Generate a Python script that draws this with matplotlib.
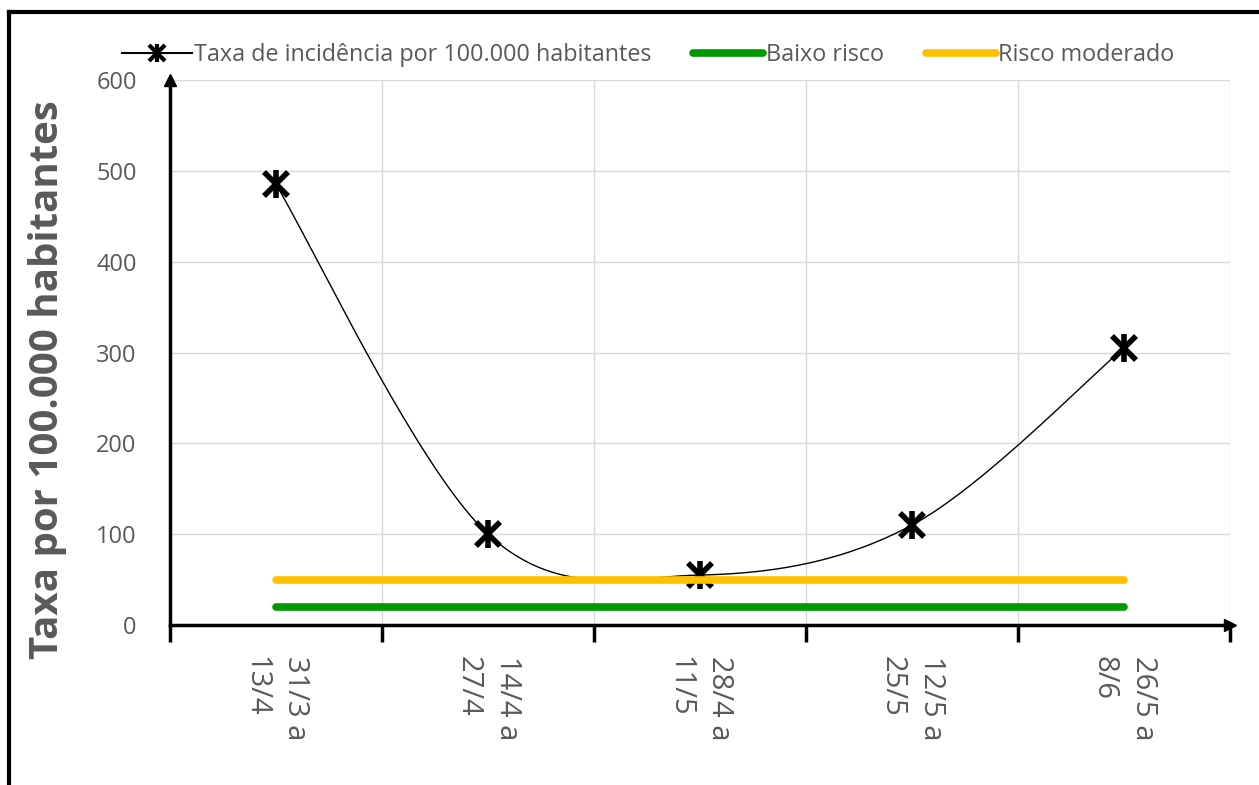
import numpy as np
import matplotlib.pyplot as plt
from matplotlib.lines import Line2D
from matplotlib.legend_handler import HandlerTuple

# Dados do gráfico
periodos = ['31/3 a\n13/4', '14/4 a\n27/4', '28/4 a\n11/5', '12/5 a\n25/5', '26/5 a\n8/6']
taxa_incidencia = [485, 100, 55, 110, 305]
baixo_risco = [20, 20, 20, 20, 20]
risco_moderado = [50, 50, 50, 50, 50]

cinza = '#595959'
verde = '#009A00'
amarelo = '#FFC000'


def suavizar(x, y, n=40):
    """Curva suavizada tipo Excel (Catmull-Rom em Bezier)"""
    x = np.asarray(x, float)
    y = np.asarray(y, float)
    px = np.concatenate([[x[0]], x, [x[-1]]])
    py = np.concatenate([[y[0]], y, [y[-1]]])
    xs, ys = [], []
    t = np.linspace(0, 1, n)
    for i in range(1, len(px) - 2):
        p0 = np.array([px[i], py[i]])
        p3 = np.array([px[i + 1], py[i + 1]])
        p1 = p0 + (np.array([px[i + 1], py[i + 1]]) - np.array([px[i - 1], py[i - 1]])) / 6
        p2 = p3 - (np.array([px[i + 2], py[i + 2]]) - np.array([px[i], py[i]])) / 6
        b = ((1 - t) ** 3)[:, None] * p0 + (3 * (1 - t) ** 2 * t)[:, None] * p1 \
            + (3 * (1 - t) * t ** 2)[:, None] * p2 + (t ** 3)[:, None] * p3
        xs.extend(b[:, 0])
        ys.extend(b[:, 1])
    return np.array(xs), np.array(ys)


plt.rcParams['font.family'] = ['Open Sans', 'DejaVu Sans']

fig = plt.figure(figsize=(12.59, 7.85), dpi=100)
ax = fig.add_axes([170 / 1259, 1 - 625 / 785, 1060 / 1259, 545 / 785])

x = np.arange(len(periodos))
sx, sy = suavizar(x, taxa_incidencia)
ax.plot(sx, sy, color='black', linewidth=1, zorder=3)
ax.plot(x, taxa_incidencia, linestyle='none', marker='x', markersize=17,
        markeredgewidth=4, color='black', zorder=4)
ax.plot(x, taxa_incidencia, linestyle='none', marker='|', markersize=20,
        markeredgewidth=4, color='black', zorder=4)
ax.plot(x, baixo_risco, color=verde, linewidth=5.5, solid_capstyle='round', zorder=5)
ax.plot(x, risco_moderado, color=amarelo, linewidth=5.5, solid_capstyle='round', zorder=5)

ax.set_xlim(-0.5, 4.5)
ax.set_ylim(0, 600)
ax.set_yticks(range(0, 601, 100))
ax.set_xticks(x)
ax.set_xticklabels(periodos, rotation=-90, fontsize=21, color=cinza,
                   va='top', ha='center', multialignment='left', linespacing=1.5)
ax.set_xticks(np.arange(-0.5, 4.6, 1), minor=True)
ax.tick_params(axis='x', which='major', length=0, pad=22)
ax.tick_params(axis='x', which='minor', length=12, width=2.5, direction='out', color='black')
ax.tick_params(axis='y', length=0, pad=24, labelsize=17, labelcolor=cinza)

ax.grid(True, axis='y', which='major', color='#D9D9D9', linewidth=1)
ax.grid(True, axis='x', which='minor', color='#D9D9D9', linewidth=1)
ax.set_axisbelow(True)

for lado in ['top', 'right']:
    ax.spines[lado].set_visible(False)
for lado in ['left', 'bottom']:
    ax.spines[lado].set_linewidth(2.5)
ax.spines['left'].set_bounds(0, 600)
ax.plot(1, 0, '>k', markersize=9, transform=ax.transAxes, clip_on=False, zorder=6)
ax.plot(0, 1, '^k', markersize=9, transform=ax.transAxes, clip_on=False, zorder=6)

fig.text(48 / 1259, 1 - 380 / 785, 'Taxa por 100.000 habitantes', rotation=90,
         ha='center', va='center', fontsize=29, fontweight='bold', color=cinza)

h_taxa = (Line2D([], [], color='black', linewidth=1.5),
          Line2D([], [], color='black', marker='x', markersize=11, markeredgewidth=3, linestyle='none'),
          Line2D([], [], color='black', marker='|', markersize=13, markeredgewidth=3, linestyle='none'))
h_baixo = Line2D([], [], color=verde, linewidth=5.5, solid_capstyle='round')
h_mod = Line2D([], [], color=amarelo, linewidth=5.5, solid_capstyle='round')
fig.legend([h_taxa, h_baixo, h_mod],
           ['Taxa de incidência por 100.000 habitantes', 'Baixo risco', 'Risco moderado'],
           handler_map={tuple: HandlerTuple(ndivide=1)},
           loc='center', bbox_to_anchor=(648 / 1259, 1 - 55 / 785), ncol=3, frameon=False,
           fontsize=16.8, labelcolor=cinza, handlelength=3.0, handletextpad=0.1,
           columnspacing=1.8)

# moldura preta (topo e esquerda)
fig.add_artist(Line2D([9 / 1259, 9 / 1259], [0, 1 - 12 / 785], color='black', linewidth=3,
                      transform=fig.transFigure))
fig.add_artist(Line2D([9 / 1259, 1], [1 - 12 / 785, 1 - 12 / 785], color='black', linewidth=3,
                      transform=fig.transFigure))

fig.savefig('out.png', dpi=100)
